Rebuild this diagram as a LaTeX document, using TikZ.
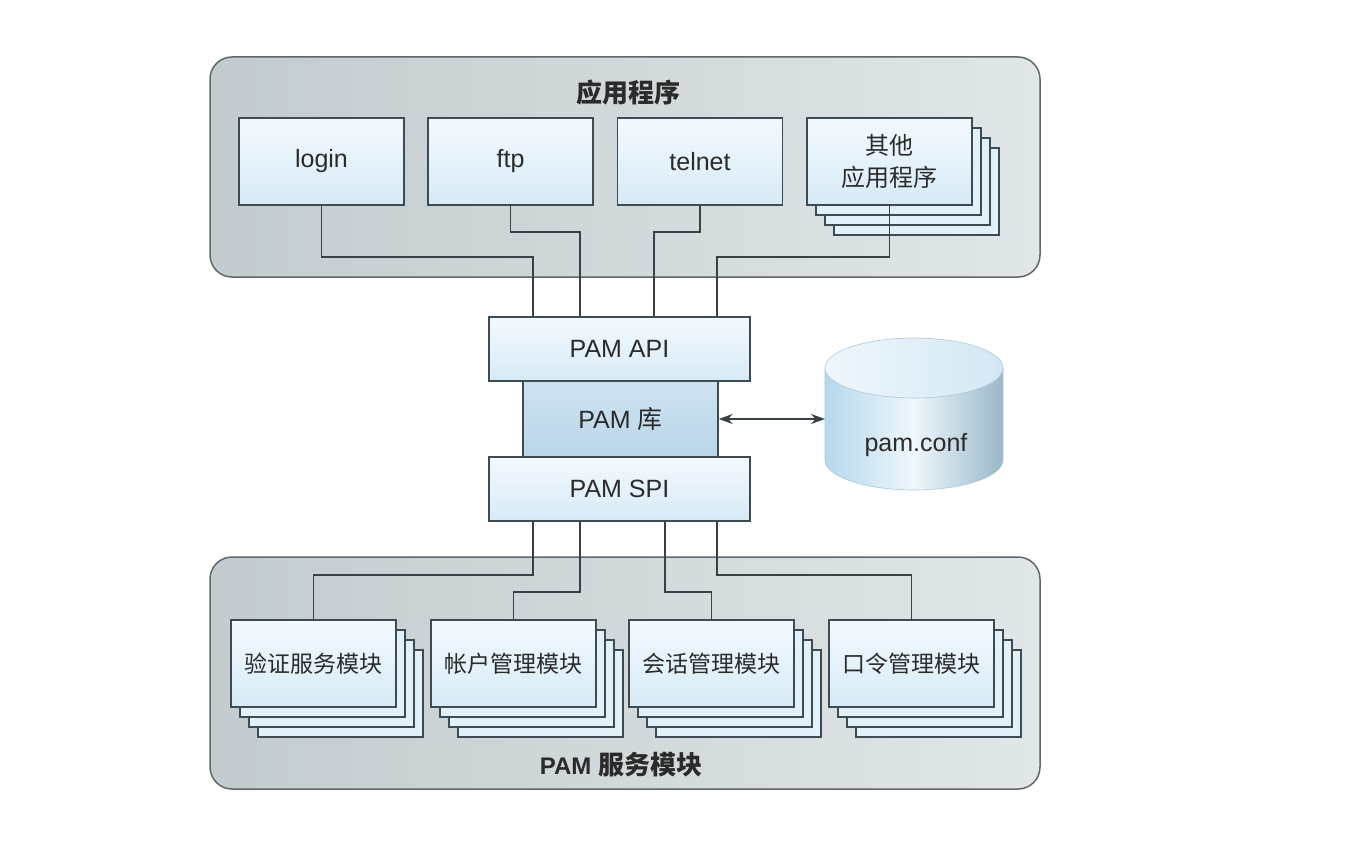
\documentclass[tikz,border=0pt]{standalone}
\usepackage{fontspec}
\setmainfont{Liberation Sans}
\newfontfamily\cjk{Noto Sans CJK SC}
\usetikzlibrary{positioning,arrows.meta,shapes.geometric}

\definecolor{groupline}{HTML}{5E686C}
\definecolor{groupL}{HTML}{C2CBCE}
\definecolor{groupR}{HTML}{E1E6E8}
\definecolor{cardline}{HTML}{3E4B53}
\definecolor{cardT}{HTML}{F3FAFE}
\definecolor{cardB}{HTML}{D6EAF6}
\definecolor{libfill}{HTML}{B9D6EA}
\definecolor{confT}{HTML}{EEF7FC}
\definecolor{confB}{HTML}{B6D8EC}
\definecolor{confline}{HTML}{A9C8DA}
\definecolor{wireline}{HTML}{3A4146}
\definecolor{txt}{HTML}{2B2B2B}

\tikzset{
	group/.style = {draw = groupline, line width = 1.5pt, rounded corners = 22pt, left color = groupL, right color = groupR},
	grouptitle/.style = {font = \fontsize{24}{28}\selectfont\bfseries, text = txt},
	card/.style = {draw = cardline, line width = 1.4pt, top color = cardT, bottom color = cardB, minimum width = 165pt, minimum height = 87pt, inner sep = 0pt, align = center, text = txt, font = \fontsize{25}{29}\selectfont},
	cjkcard/.style = {card, font = \cjk\fontsize{23}{30}\selectfont},
	backcard/.style = {draw = cardline, line width = 1.2pt, fill = cardB!70!white},
	layer/.style = {draw = cardline, line width = 1.4pt, top color = cardT, bottom color = cardB, minimum width = 261pt, minimum height = 64pt, inner sep = 0pt, text = txt, font = \fontsize{25}{29}\selectfont},
	wire/.style = {draw = wireline, line width = 1.6pt},
}

\begin{document}
\begin{tikzpicture}[x = 1pt, y = -1pt]
	%	page
	\useasboundingbox (0, 0) rectangle (1372, 848);
	
	\def\cw{82.5}
	\def\ch{43.5}
	
	%	groups
	\node[group, minimum width = 830pt, minimum height = 220pt] (apps) at (625, 167) {};
	\node[grouptitle] (appstitle) at (628, 93) {\cjk\fontsize{26}{28}\selectfont 应用程序};
	
	\node[group, minimum width = 830pt, minimum height = 232pt] (mods) at (625, 673) {};
	\node[grouptitle] (modstitle) at (621, 765) {PAM {\cjk\fontsize{26}{28}\selectfont 服务模块}};
	
	%	stacked copies behind cards
	\foreach \cx/\cy in {889.5/161.5, 313.5/663.5, 513.5/663.5, 711.5/663.5, 911.5/663.5}{
		\foreach \k in {3, 2, 1}{
			\draw[backcard] (\cx - \cw + 9*\k, \cy - \ch + 10*\k) rectangle (\cx + \cw + 9*\k, \cy + \ch + 10*\k);
		}
	}
	
	%	applications
	\node[card] (login) at (321.5, 161.5) {login};
	\node[card] (ftp) at (510.5, 161.5) {ftp};
	\node[card] (telnet) at (700, 161.5) {telnet};
	\node[cjkcard, font = \cjk\fontsize{24}{32}\selectfont] (others) at (889.5, 161.5) {其他\\应用程序};
	
	%	modules
	\node[cjkcard] (auth) at (313.5, 663.5) {验证服务模块};
	\node[cjkcard] (acct) at (513.5, 663.5) {帐户管理模块};
	\node[cjkcard] (sess) at (711.5, 663.5) {会话管理模块};
	\node[cjkcard] (pass) at (911.5, 663.5) {口令管理模块};
	
	%	PAM layers
	\node[layer] (api) at (619.5, 349) {PAM API};
	\node[layer, top color = libfill!70!white, bottom color = libfill, minimum width = 195pt, minimum height = 76pt] (lib) at (620.5, 419) {PAM {\cjk 库}};
	\node[layer] (spi) at (619.5, 489) {PAM SPI};
	
	%	pam.conf cylinder
	\def\rx{89}
	\def\ry{30}
	\shade[left color = confB, right color = confB!85!black, middle color = confT, draw = confline, line width = 0.6pt]
		(914 - \rx, 368) -- (914 - \rx, 460) arc[start angle = 180, end angle = 0, x radius = \rx, y radius = \ry] -- (914 + \rx, 368) -- cycle;
	\shade[left color = confT, right color = confB!60!white, draw = confline, line width = 0.6pt] (914, 368) ellipse[x radius = \rx, y radius = \ry];
	\coordinate (confwest) at (914 - \rx, 419);
	\node[text = txt, font = \fontsize{25}{29}\selectfont] (conf) at (916, 445) {pam.conf};
	
	\draw[{Stealth[length = 14pt, width = 10pt]}-{Stealth[length = 14pt, width = 10pt]}, line width = 1.3pt, wireline] (lib.east) -- (lib.east -| confwest);
	
	%	wires to API
	\coordinate (a1) at (533, 257);
	\coordinate (a2) at (580, 232);
	\coordinate (a3) at (654, 232);
	\coordinate (a4) at (717, 257);
	\draw[wire] (login.south) |- (a1) -- (a1 |- api.north);
	\draw[wire] (ftp.south) |- (a2) -- (a2 |- api.north);
	\draw[wire] (telnet.south) |- (a3) -- (a3 |- api.north);
	\draw[wire] (others.south) |- (a4) -- (a4 |- api.north);
	
	%	wires from SPI
	\coordinate (b1) at (533, 575);
	\coordinate (b2) at (580, 592);
	\coordinate (b3) at (665, 592);
	\coordinate (b4) at (717, 575);
	\draw[wire] (b1 |- spi.south) -- (b1) -| (auth.north);
	\draw[wire] (b2 |- spi.south) -- (b2) -| (acct.north);
	\draw[wire] (b3 |- spi.south) -- (b3) -| (sess.north);
	\draw[wire] (b4 |- spi.south) -- (b4) -| (pass.north);
\end{tikzpicture}
\end{document}
